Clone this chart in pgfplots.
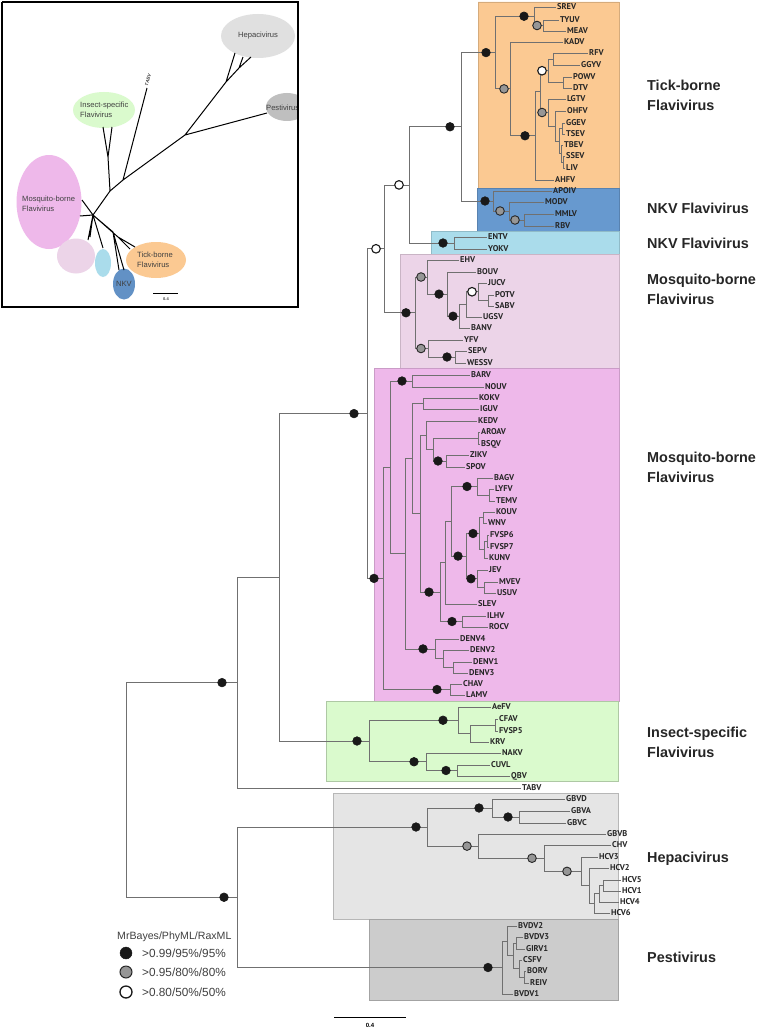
\documentclass[border=0pt]{standalone}
\usepackage{pgfplots}
\pgfplotsset{compat=1.18}
\usepackage{pgfplotstable}
\usepackage{fontspec}
\setmainfont{Liberation Sans}
\newfontfamily\leaffont{PT Sans}
\definecolor{cTick}{RGB}{251,201,146}
\definecolor{cNKV}{RGB}{103,153,207}
\definecolor{cLB}{RGB}{170,220,235}
\definecolor{cLP}{RGB}{236,212,232}
\definecolor{cPink}{RGB}{238,184,234}
\definecolor{cGreen}{RGB}{218,250,205}
\definecolor{cHep}{RGB}{229,229,229}
\definecolor{cPest}{RGB}{204,204,204}
\definecolor{cTree}{RGB}{112,112,112}
\definecolor{cGrayM}{RGB}{150,150,150}

\pgfplotstableread{
x y name
557 7 SREV
560 20 TYUV
567 31 MEAV
564 42 KADV
589 53 RFV
581 65 GGYV
573 77 POWV
573 88 DTV
567 99 LGTV
567 111 OHFV
566 123 GGEV
566 134 TSEV
564 145 TBEV
566 156 SSEV
566 168 LIV
555 180 AHFV
553 191 APOIV
545 202 MODV
555 214 MMLV
555 226 RBV
488 237 ENTV
488 249 YOKV
460 260 EHV
477 272 BOUV
488 283 JUCV
495 295 POTV
495 306 SABV
483 317 UGSV
471 328 BANV
464 340 YFV
468 351 SEPV
467 363 WESSV
471 375 BARV
485 387 NOUV
479 398 KOKV
480 409 IGUV
478 421 KEDV
481 432 AROAV
481 444 BSQV
470 455 ZIKV
466 467 SPOV
494 478 BAGV
495 489 LYFV
496 501 TEMV
496 512 KOUV
488 523 WNV
490 535 FVSP6
490 547 FVSP7
489 558 KUNV
489 570 JEV
499 582 MVEV
497 593 USUV
478 604 SLEV
487 616 ILHV
489 627 ROCV
460 639 DENV4
470 650 DENV2
473 662 DENV1
469 673 DENV3
463 684 CHAV
466 695 LAMV
492 707 AeFV
499 719 CFAV
499 731 FVSP5
490 742 KRV
502 753 NAKV
491 765 CUVL
511 776 QBV
522 788 TABV
566 799 GBVD
571 811 GBVA
567 823 GBVC
607 834 GBVB
612 845 CHV
599 857 HCV3
610 868 HCV2
622 880 HCV5
622 891 HCV1
620 902 HCV4
611 913 HCV6
518 926 BVDV2
524 937 BVDV3
526 949 GIRV1
523 960 CSFV
527 971 BORV
530 983 REIV
514 994 BVDV1
}\leaves

\begin{document}
\begin{tikzpicture}
\begin{axis}[x=1pt, y=1pt, xmin=0, xmax=762, ymin=0, ymax=1030, y dir=reverse,
  hide axis, clip=false, unbounded coords=jump]

% background
\addplot[fill=white, draw=none] coordinates {(0,0)(762,0)(762,1030)(0,1030)(0,0)};

% clade boxes
\addplot[fill=cTick, draw=cTick!85!black, line width=0.4pt] coordinates {(478,2)(619,2)(619,188)(478,188)(478,2)};
\addplot[fill=cNKV, draw=cNKV!85!black, line width=0.4pt] coordinates {(477,188)(619,188)(619,231)(477,231)(477,188)};
\addplot[fill=cLB, draw=cLB!85!black, line width=0.4pt] coordinates {(431,231)(619,231)(619,254)(431,254)(431,231)};
\addplot[fill=cLP, draw=cLP!85!black, line width=0.4pt] coordinates {(400,254)(619,254)(619,368)(400,368)(400,254)};
\addplot[fill=cPink, draw=cPink!85!black, line width=0.4pt] coordinates {(374,368)(619,368)(619,701)(374,701)(374,368)};
\addplot[fill=cGreen, draw=cGreen!80!black, line width=0.4pt] coordinates {(326,701)(618,701)(618,781)(326,781)(326,701)};
\addplot[fill=cHep, draw=cHep!80!black, line width=0.4pt] coordinates {(333,793)(618,793)(618,919)(333,919)(333,793)};
\addplot[fill=cPest, draw=cPest!80!black, line width=0.4pt] coordinates {(369,919)(618,919)(618,1000)(369,1000)(369,919)};

% tree
\addplot[cTree, line width=0.8pt] coordinates {
(558.5,20)(543,20)(543,31)(565.5,31)(nan,nan)
(555.5,7)(534,7)(534,25.5)(543,25.5)(nan,nan)
(587.5,53)(553,53)(553,65)(579.5,65)(nan,nan)
(571.5,77)(563,77)(563,88)(571.5,88)(nan,nan)
(553,59)(548,59)(548,82.5)(563,82.5)(nan,nan)
(564.5,123)(562,123)(562,134)(564.5,134)(nan,nan)
(564.5,156)(563,156)(563,168)(564.5,168)(nan,nan)
(562.5,145)(561,145)(561,162)(563,162)(nan,nan)
(562,128.5)(559,128.5)(559,153.5)(561,153.5)(nan,nan)
(565.5,111)(555,111)(555,141)(559,141)(nan,nan)
(565.5,99)(548,99)(548,126)(555,126)(nan,nan)
(548,70.75)(540,70.75)(540,112.5)(548,112.5)(nan,nan)
(540,91.6)(535,91.6)(535,180)(553.5,180)(nan,nan)
(562.5,42)(510,42)(510,135.8)(535,135.8)(nan,nan)
(534,16.25)(495,16.25)(495,88.9)(510,88.9)(nan,nan)
(495,52.6)(461,52.6)(461,201)(493,201)(nan,nan)
(553.5,214)(524,214)(524,226)(553.5,226)(nan,nan)
(543.5,202)(509,202)(509,220)(524,220)(nan,nan)
(551.5,191)(493,191)(493,211)(509,211)(nan,nan)
(486.5,237)(454,237)(454,249)(486.5,249)(nan,nan)
(461,126.8)(409,126.8)(409,243)(454,243)(nan,nan)
(493.5,295)(488,295)(488,306)(493.5,306)(nan,nan)
(486.5,283)(478,283)(478,300.5)(488,300.5)(nan,nan)
(478,291.75)(466,291.75)(466,317)(481.5,317)(nan,nan)
(466,304.4)(459,304.4)(459,328)(469.5,328)(nan,nan)
(475.5,272)(447,272)(447,316.2)(459,316.2)(nan,nan)
(458.5,260)(427,260)(427,294.1)(447,294.1)(nan,nan)
(466.5,351)(455,351)(455,363)(465.5,363)(nan,nan)
(462.5,340)(428,340)(428,357)(455,357)(nan,nan)
(427,277)(415,277)(415,348.5)(428,348.5)(nan,nan)
(409,184.9)(384,184.9)(384,312.8)(415,312.8)(nan,nan)
(469.5,375)(412,375)(412,387)(483.5,387)(nan,nan)
(477.5,398)(423,398)(423,409)(478.5,409)(nan,nan)
(479.5,432)(478,432)(478,444)(479.5,444)(nan,nan)
(468.5,455)(446,455)(446,467)(464.5,467)(nan,nan)
(478,438)(433,438)(433,461)(446,461)(nan,nan)
(476.5,421)(426,421)(426,449.5)(433,449.5)(nan,nan)
(493.5,489)(489,489)(489,501)(494.5,501)(nan,nan)
(492.5,478)(477,478)(477,495)(489,495)(nan,nan)
(494.5,512)(483,512)(483,523)(486.5,523)(nan,nan)
(488.5,535)(487,535)(487,547)(488.5,547)(nan,nan)
(487,541)(484,541)(484,558)(487.5,558)(nan,nan)
(483,517.5)(479,517.5)(479,549.5)(484,549.5)(nan,nan)
(497.5,582)(484,582)(484,593)(495.5,593)(nan,nan)
(487.5,570)(477,570)(477,587.5)(484,587.5)(nan,nan)
(479,533.5)(466,533.5)(466,578.75)(477,578.75)(nan,nan)
(477,486.5)(451,486.5)(451,556.1)(466,556.1)(nan,nan)
(451,521.3)(445,521.3)(445,604)(476.5,604)(nan,nan)
(485.5,616)(462,616)(462,627)(487.5,627)(nan,nan)
(445,562.7)(440,562.7)(440,621.5)(462,621.5)(nan,nan)
(426,435.25)(420,435.25)(420,592.1)(440,592.1)(nan,nan)
(423,403.5)(412,403.5)(412,513.7)(420,513.7)(nan,nan)
(471.5,662)(453,662)(453,673)(467.5,673)(nan,nan)
(468.5,650)(443,650)(443,667.5)(453,667.5)(nan,nan)
(458.5,639)(435,639)(435,658.75)(443,658.75)(nan,nan)
(412,458.6)(405,458.6)(405,648.9)(435,648.9)(nan,nan)
(412,381)(390,381)(390,553.7)(405,553.7)(nan,nan)
(461.5,684)(450,684)(450,695)(464.5,695)(nan,nan)
(390,467.4)(383,467.4)(383,689.5)(450,689.5)(nan,nan)
(384,248.8)(367,248.8)(367,578.4)(383,578.4)(nan,nan)
(497.5,719)(495,719)(495,731)(497.5,731)(nan,nan)
(495,725)(470,725)(470,742)(488.5,742)(nan,nan)
(490.5,707)(458,707)(458,733.5)(470,733.5)(nan,nan)
(489.5,765)(457,765)(457,776)(509.5,776)(nan,nan)
(500.5,753)(426,753)(426,770.5)(457,770.5)(nan,nan)
(458,720.25)(369,720.25)(369,761.75)(426,761.75)(nan,nan)
(367,413.6)(279,413.6)(279,741)(369,741)(nan,nan)
(279,577.3)(237,577.3)(237,788)(520.5,788)(nan,nan)
(569.5,811)(519,811)(519,823)(565.5,823)(nan,nan)
(564.5,799)(492,799)(492,817)(519,817)(nan,nan)
(620.5,880)(603,880)(603,891)(620.5,891)(nan,nan)
(603,885.5)(599,885.5)(599,902)(618.5,902)(nan,nan)
(599,893.75)(594,893.75)(594,913)(609.5,913)(nan,nan)
(608.5,868)(589,868)(589,903.4)(594,903.4)(nan,nan)
(597.5,857)(581,857)(581,885.7)(589,885.7)(nan,nan)
(610.5,845)(544,845)(544,871.35)(581,871.35)(nan,nan)
(605.5,834)(478,834)(478,858.2)(544,858.2)(nan,nan)
(492,808)(427,808)(427,846.1)(478,846.1)(nan,nan)
(525.5,971)(524,971)(524,983)(528.5,983)(nan,nan)
(521.5,960)(519,960)(519,977)(524,977)(nan,nan)
(522.5,937)(516,937)(516,949)(524.5,949)(nan,nan)
(516,943)(513,943)(513,968.5)(519,968.5)(nan,nan)
(516.5,926)(507,926)(507,955.75)(513,955.75)(nan,nan)
(507,940.9)(502,940.9)(502,994)(512.5,994)(nan,nan)
(427,827)(237,827)(237,967.5)(502,967.5)(nan,nan)
(237,682.6)(126,682.6)(126,897.25)(237,897.25)
};

% support markers
\addplot[only marks, mark=*, mark size=4.3pt, mark options={fill=black!90, draw=black!90, line width=0.6pt}] coordinates {
(524,16.25)(486,52.6)(525,135.8)(450,126.8)(485,201)(443,243)(453,316.2)(439,294.1)(447,357)(406,312.8)
(402,381)(438,461)(467,486.5)(473,533.5)(471,578.75)(458,556.1)(452,621.5)(429,592.1)(423,648.9)(437,689.5)
(374,578.4)(354,413.6)(443,720.25)(446,770.5)(414,761.75)(357,741)(222,682.6)(479,808)(508,817)(416,827)
(488,967.5)(224,897.25)};
\addplot[only marks, mark=*, mark size=4.3pt, mark options={fill=cGrayM, draw=black!85, line width=0.9pt}] coordinates {
(537,25.5)(504,88.9)(542,112.5)(515,220)(500,211)(421,277)(421,348.5)(467,846.1)(532,858.2)(567,871.35)};
\addplot[only marks, mark=*, mark size=4.3pt, mark options={fill=white, draw=black!90, line width=1.1pt}] coordinates {
(542,70.75)(399,184.9)(376,248.8)(472,291.75)};

% leaf labels
\addplot[only marks, mark=none, nodes near coords, point meta=explicit symbolic,
  nodes near coords align=horizontal,
  every node near coord/.append style={anchor=west, inner sep=0pt, text=black!85,
  font=\leaffont\bfseries\fontsize{8.4}{9}\selectfont}]
  table[x=x, y=y, meta=name] {\leaves};

% clade names
\begin{scope}[every node/.style={anchor=west, align=left, inner sep=0pt, text=black!85,
  font=\bfseries\fontsize{14.4}{20}\selectfont}]
\node at (axis cs:647,95) {Tick-borne\\Flavivirus};
\node at (axis cs:647,208) {NKV Flavivirus};
\node at (axis cs:647,243) {NKV Flavivirus};
\node at (axis cs:647,289.5) {Mosquito-borne\\Flavivirus};
\node at (axis cs:647,467.5) {Mosquito-borne\\Flavivirus};
\node at (axis cs:647,742.5) {Insect-specific\\Flavivirus};
\node at (axis cs:647,859) {Hepacivirus};
\node at (axis cs:647,957) {Pestivirus};
\end{scope}

% legend
\addplot[only marks, mark=*, mark size=6pt, mark options={fill=black!90, draw=black!90}] coordinates {(126,953)};
\addplot[only marks, mark=*, mark size=6pt, mark options={fill=cGrayM, draw=black!85, line width=1pt}] coordinates {(126,972)};
\addplot[only marks, mark=*, mark size=6pt, mark options={fill=white, draw=black!90, line width=1.3pt}] coordinates {(126,992)};
\begin{scope}[every node/.style={anchor=west, inner sep=0pt, text=black!75}]
\node[font=\fontsize{10.6}{12}\selectfont] at (axis cs:117,937) {MrBayes/PhyML/RaxML};
\node[font=\fontsize{11.8}{13}\selectfont] at (axis cs:142,953) {>0.99/95\%/95\%};
\node[font=\fontsize{11.8}{13}\selectfont] at (axis cs:142,972) {>0.95/80\%/80\%};
\node[font=\fontsize{11.8}{13}\selectfont] at (axis cs:142,992) {>0.80/50\%/50\%};
\end{scope}

% scale bar
\addplot[black, line width=0.8pt] coordinates {(334,1017)(406,1017)};
\node[font=\bfseries\fontsize{6}{6}\selectfont, inner sep=0pt] at (axis cs:370,1025) {0.4};

% inset
\begin{scope}
\clip (axis cs:2,2) rectangle (axis cs:298,307);
\fill[cHep!98!black] (axis cs:258,36) ellipse [x radius=37pt, y radius=22pt];
\fill[black!25] (axis cs:287,107) ellipse [x radius=21pt, y radius=14pt];
\fill[cGreen] (axis cs:104,110) ellipse [x radius=31pt, y radius=18pt];
\fill[cPink] (axis cs:49,202) ellipse [x radius=32.5pt, y radius=47pt];
\fill[cLP] (axis cs:76,256) ellipse [x radius=19pt, y radius=17.5pt];
\fill[cLB] (axis cs:103,263) ellipse [x radius=8pt, y radius=14pt];
\fill[cNKV!95!black] (axis cs:124,284) ellipse [x radius=11pt, y radius=15.5pt];
\fill[cTick] (axis cs:156,260) ellipse [x radius=30pt, y radius=18pt];
\node[font=\fontsize{7.6}{7}\selectfont, text=black!75, anchor=west, inner sep=0pt] at (axis cs:266,108) {Pestivirus};
\end{scope}
\addplot[black, line width=1pt] coordinates {
(93,215)(110,191)(123,180)(185,135)(226,82)(239,68)(251,57)(nan,nan)
(239,68)(243,57)(nan,nan)
(226,82)(235,53)(nan,nan)
(185,135)(267,113)(nan,nan)
(123,180)(147,88)(nan,nan)
(110,191)(108,157)(103,127)(nan,nan)
(108,157)(112,127)(nan,nan)
(93,215)(82,200)(nan,nan)
(93,215)(80,216)(nan,nan)
(93,215)(90,237)(nan,nan)
(93,215)(88,240)(nan,nan)
(93,215)(103,248)(nan,nan)
(93,215)(113,232)(124,270)(nan,nan)
(113,232)(119,270)(nan,nan)
(93,215)(118,237)(135,247)(nan,nan)
(118,237)(130,249)
};
\addplot[black, line width=1.5pt] coordinates {(2,2)(298,2)(298,307)(2,307)(2,2)};
\addplot[black, line width=0.7pt] coordinates {(153,293)(178,293)};
\begin{scope}[every node/.style={inner sep=0pt, text=black!75, font=\fontsize{7.6}{10.5}\selectfont}]
\node at (axis cs:258,36) {Hepacivirus};
\node[anchor=west, align=left] at (axis cs:80,110) {Insect-specific\\Flavivirus};
\node[anchor=west, align=left] at (axis cs:22,204) {Mosquito-borne\\Flavivirus};
\node[anchor=west, align=left] at (axis cs:137,260) {Tick-borne\\Flavivirus};
\node at (axis cs:124,284) {NKV};
\node[rotate=75, font=\bfseries\itshape\fontsize{4.5}{5}\selectfont] at (axis cs:148,80) {TABV};
\node[font=\bfseries\fontsize{4}{4}\selectfont] at (axis cs:166,299) {0.4};
\end{scope}

\end{axis}
\end{tikzpicture}
\end{document}
